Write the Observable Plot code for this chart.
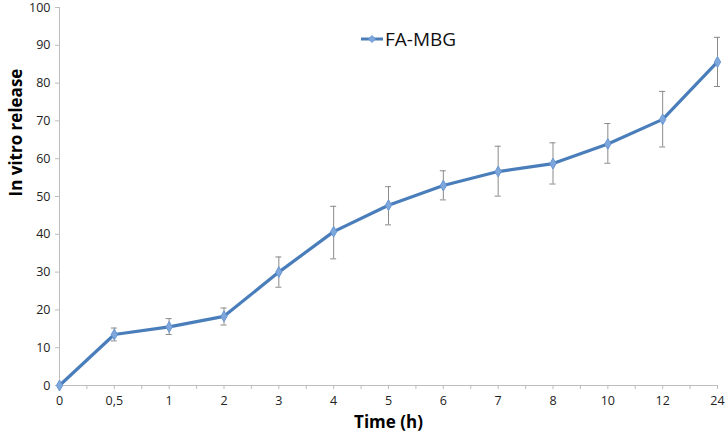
<!DOCTYPE html>
<html><head><meta charset="utf-8">
<script src="https://cdn.jsdelivr.net/npm/d3@7"></script>
<script src="https://cdn.jsdelivr.net/npm/@observablehq/plot@0.6"></script>
<style>
body{margin:0;background:#fff;font-family:"Open Sans",sans-serif;}
#wrap{position:relative;width:728px;height:433px;}
#legend{position:absolute;left:360px;top:26px;display:flex;align-items:center;font-size:19px;color:#111;}
</style></head>
<body><div id="wrap"></div>
<script>
const timeLabels = ["0","0,5","1","2","3","4","5","6","7","8","10","12","24"];
const release = [0, 13.5, 15.5, 18.3, 30.0, 40.7, 47.7, 52.9, 56.6, 58.7, 63.9, 70.4, 85.6];
const errLow  = [0, 11.8, 13.5, 16.0, 26.0, 33.5, 42.5, 49.1, 50.1, 53.3, 58.8, 63.1, 79.1];
const errHigh = [0, 15.2, 17.7, 20.5, 34.0, 47.4, 52.6, 56.8, 63.3, 64.2, 69.3, 77.8, 92.1];
const seriesName = "FA-MBG";
const yTicks = d3.range(0, 101, 10);

const data = timeLabels.map((t, i) => ({i, t, v: release[i], lo: errLow[i], hi: errHigh[i]}));
const errData = data.filter(d => d.hi > d.lo);
const lineColor = "#4a7ebb";
const cap = 0.055;

const chart = Plot.plot({
  width: 728, height: 433,
  marginLeft: 59, marginRight: 11, marginTop: 7, marginBottom: 48,
  style: {fontFamily: "Open Sans, sans-serif", fontSize: "12px", color: "#222", background: "#fff", overflow: "visible"},
  x: {type: "linear", domain: [0, 12], label: null},
  y: {domain: [0, 100], label: null},
  marks: [
    Plot.ruleY([0], {stroke: "#bdbdbd"}),
    Plot.ruleX([0], {stroke: "#bdbdbd"}),
    Plot.axisY({ticks: yTicks, tickSize: 4, tickPadding: 5, stroke: "#bdbdbd", fontSize: 12.5, label: null, color: "#222"}),
    Plot.axisX({ticks: d3.range(0, 12.01, 0.5), tickSize: 4, tickPadding: 7, stroke: "#bdbdbd", fontSize: 12.5, label: null,
      tickFormat: d => Number.isInteger(d) ? timeLabels[d] : ""}),
    Plot.ruleX(errData, {x: "i", y1: "lo", y2: "hi", stroke: "#8a8a8a", strokeWidth: 1}),
    Plot.ruleY(errData, {y: "hi", x1: d => d.i - cap, x2: d => d.i + cap, stroke: "#8a8a8a", strokeWidth: 1}),
    Plot.ruleY(errData, {y: "lo", x1: d => d.i - cap, x2: d => d.i + cap, stroke: "#8a8a8a", strokeWidth: 1}),
    Plot.line(data, {x: "i", y: "v", stroke: lineColor, strokeWidth: 3.2, strokeLinejoin: "round"}),
    Plot.dot(data, {x: "i", y: "v", symbol: "diamond", r: 3.3, fill: "#7ea7dc", stroke: "#6a98d4", strokeWidth: 1}),
    Plot.text(["Time (h)"], {frameAnchor: "bottom", dy: 37, lineAnchor: "middle", fontSize: 17, fontWeight: "bold", fill: "#000"}),
    Plot.text(["In vitro release"], {frameAnchor: "left", dx: -43, rotate: -90, fontSize: 17, fontWeight: "bold", fill: "#000"})
  ]
});
const wrap = document.getElementById("wrap");
wrap.appendChild(chart);
const lg = document.createElement("div");
lg.id = "legend";
lg.innerHTML = `<svg width="24" height="12"><line x1="1" y1="6" x2="23" y2="6" stroke="${lineColor}" stroke-width="3"/><path d="M12,2.5 L15.5,6 L12,9.5 L8.5,6 Z" fill="#7ea7dc" stroke="#6a98d4"/></svg><span style="margin-left:1px">${seriesName}</span>`;
wrap.appendChild(lg);
</script>
</body></html>
